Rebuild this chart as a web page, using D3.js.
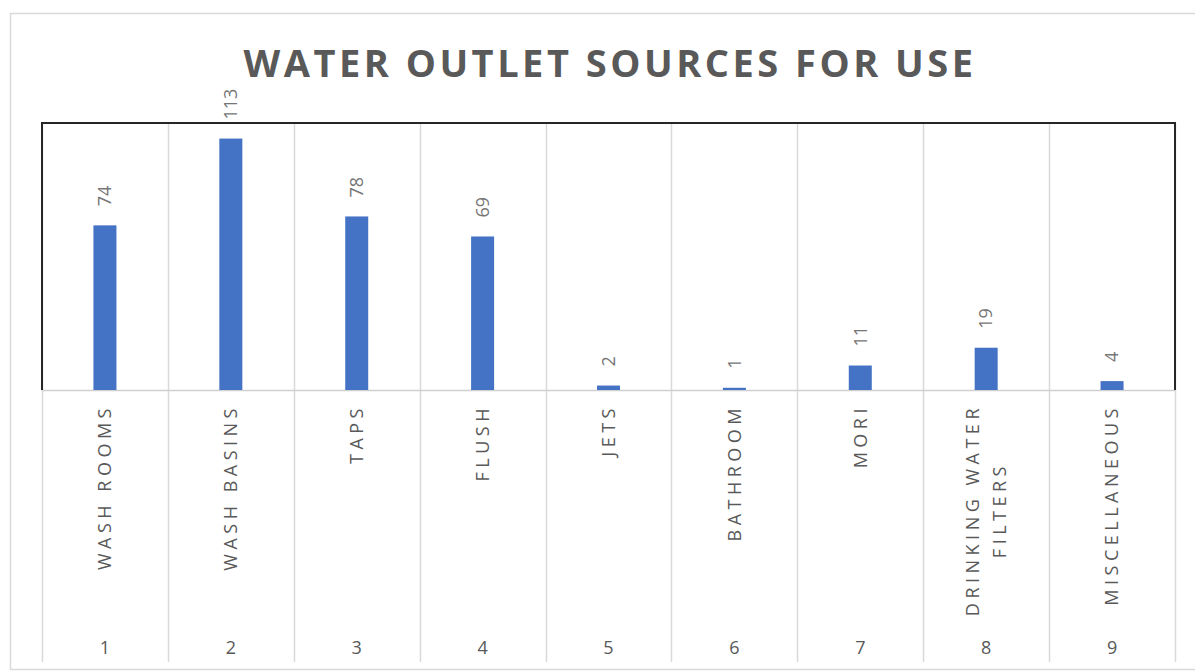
<!DOCTYPE html>
<html>
  <head>
    <meta charset="utf-8">
    <title>Water outlet sources for use</title>
    <script src="https://d3js.org/d3.v7.min.js"></script>
    <style>
      body { margin: 0; background: #fff; }
      svg { display: block; font-family: "Open Sans", sans-serif; }
    </style>
  </head>
  <body>
    <svg id="chart" width="1195" height="671"></svg>
    <script>
      // chart data
      var categories = ["WASH ROOMS", "WASH BASINS", "TAPS", "FLUSH", "JETS", "BATHROOM", "MORI", "DRINKING WATER\nFILTERS", "MISCELLANEOUS"];
      var numbers = ["1", "2", "3", "4", "5", "6", "7", "8", "9"];
      var counts = [74, 113, 78, 69, 2, 1, 11, 19, 4];
      var yDomain = [0, 120];

      var svg = d3.select("#chart");
      var margin = { top: 123, right: 20, bottom: 281, left: 42 };
      var width = 1195, height = 671;
      var plotBottom = height - margin.bottom;
      var gridBottom = 662;
      var grey = "#595959";

      // outer chart frame
      svg.append("rect")
        .attr("x", 10.5)
        .attr("y", 13.5)
        .attr("width", 1200)
        .attr("height", 656)
        .attr("fill", "none")
        .attr("stroke", "#d9d9d9")
        .attr("stroke-width", 1.5);

      var x = d3.scaleBand()
        .domain(d3.range(categories.length))
        .range([margin.left, width - margin.right])
        .padding(0);
      var y = d3.scaleLinear()
        .domain(yDomain)
        .range([plotBottom, margin.top]);

      // vertical grid lines between categories (run down through the label area)
      var edges = d3.range(categories.length + 1).map(function(i) {
        return i < categories.length ? x(i) : x(i - 1) + x.bandwidth();
      });
      svg.append("g")
        .selectAll("line")
        .data(edges)
        .join("line")
          .attr("x1", function(d) { return Math.round(d) + 0.5; })
          .attr("x2", function(d) { return Math.round(d) + 0.5; })
          .attr("y1", margin.top)
          .attr("y2", gridBottom)
          .attr("stroke", "#d9d9d9")
          .attr("stroke-width", 1.5);

      // category axis line
      svg.append("line")
        .attr("x1", margin.left)
        .attr("x2", width - margin.right)
        .attr("y1", plotBottom + 0.5)
        .attr("y2", plotBottom + 0.5)
        .attr("stroke", "#d0d0d0")
        .attr("stroke-width", 1.5);

      // bars
      var barW = 23;
      svg.append("g")
        .selectAll("rect")
        .data(counts)
        .join("rect")
          .attr("x", function(d, i) { return x(i) + x.bandwidth() / 2 - barW / 2; })
          .attr("y", function(d) { return y(d); })
          .attr("width", barW)
          .attr("height", function(d) { return plotBottom - y(d); })
          .attr("fill", "#4472c4");

      // plot border: top, left and right in black
      var left = x(0), right = x(categories.length - 1) + x.bandwidth();
      svg.append("path")
        .attr("d", "M" + left + "," + plotBottom + "V" + margin.top + "H" + right + "V" + plotBottom)
        .attr("fill", "none")
        .attr("stroke", "#262626")
        .attr("stroke-width", 2);

      // data labels, rotated
      svg.append("g")
        .selectAll("text")
        .data(counts)
        .join("text")
          .attr("transform", function(d, i) {
            return "translate(" + (x(i) + x.bandwidth() / 2) + "," + (y(d) - 19) + ") rotate(-90)";
          })
          .attr("dy", "0.35em")
          .attr("text-anchor", "start")
          .attr("font-size", 18)
          .attr("fill", "#767676")
          .text(function(d) { return d; });

      // category labels, rotated, may wrap to two lines
      var labelTop = 404;
      var catGroup = svg.append("g");
      categories.forEach(function(c, i) {
        var lines = c.split("\n");
        var g = catGroup.append("g");
        var texts = lines.map(function(line, k) {
          var off = (k - (lines.length - 1) / 2) * 27;
          return g.append("text")
            .attr("dy", "0.35em")
            .attr("text-anchor", "middle")
            .attr("font-size", 18)
            .attr("letter-spacing", 4.5)
            .attr("fill", grey)
            .attr("data-off", off)
            .text(line);
        });
        var maxLen = d3.max(texts, function(t) { return t.node().getComputedTextLength(); });
        texts.forEach(function(t) {
          t.attr("transform", "translate(" + (x(i) + x.bandwidth() / 2 + (+t.attr("data-off"))) + "," + (labelTop + maxLen / 2) + ") rotate(-90)");
        });
      });

      // category numbers along the bottom
      svg.append("g")
        .selectAll("text")
        .data(numbers)
        .join("text")
          .attr("x", function(d, i) { return x(i) + x.bandwidth() / 2; })
          .attr("y", 654)
          .attr("text-anchor", "middle")
          .attr("font-size", 18)
          .attr("fill", grey)
          .text(function(d) { return d; });

      // title
      svg.append("text")
        .attr("x", 610)
        .attr("y", 77)
        .attr("text-anchor", "middle")
        .attr("font-size", 38)
        .attr("font-weight", "bold")
        .attr("letter-spacing", 3.5)
        .attr("fill", grey)
        .text("WATER OUTLET SOURCES FOR USE");
    </script>
  </body>
</html>
